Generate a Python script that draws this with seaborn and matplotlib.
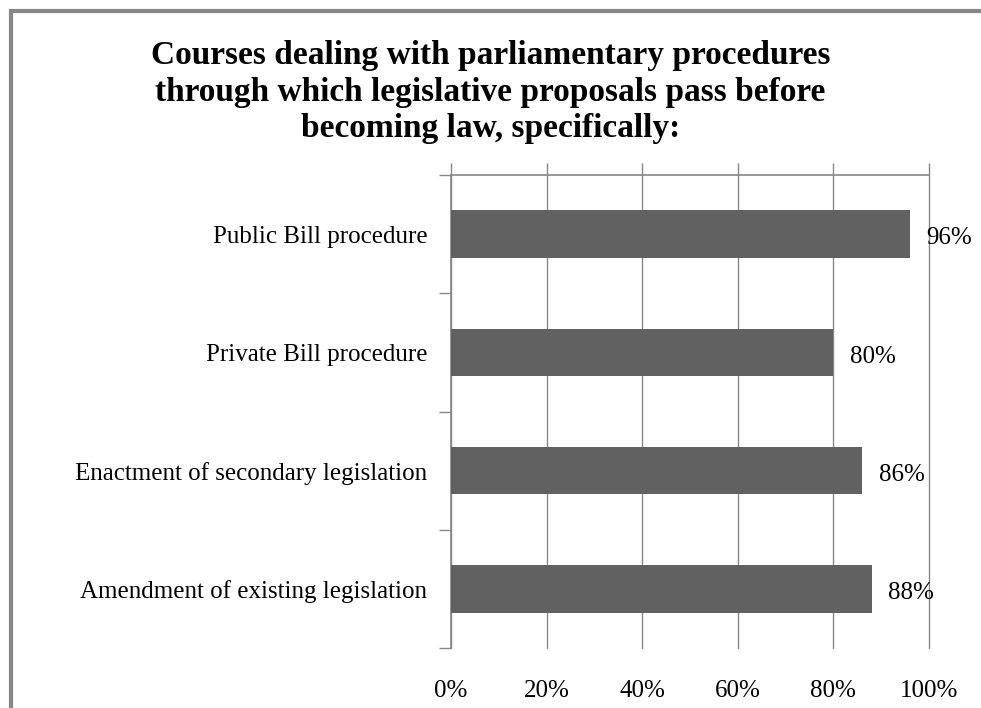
import matplotlib
matplotlib.use("Agg")
import matplotlib.pyplot as plt
from matplotlib.patches import Rectangle
from matplotlib.ticker import FixedLocator, FuncFormatter
import seaborn as sns
import pandas as pd

# Data
categories = [
    "Public Bill procedure",
    "Private Bill procedure",
    "Enactment of secondary legislation",
    "Amendment of existing legislation",
]
percentages = [96, 80, 86, 88]
x_ticks = [0, 20, 40, 60, 80, 100]

title = ("Courses dealing with parliamentary procedures\n"
         "through which legislative proposals pass before\n"
         "becoming law, specifically:")

sns.set_theme(style="white")
plt.rcParams["font.family"] = ["Liberation Serif", "DejaVu Serif"]

df = pd.DataFrame({"category": categories, "pct": percentages})

fig = plt.figure(figsize=(9.81, 7.08), dpi=100)
ax = fig.add_axes([451 / 981, 1 - 648 / 708, 478 / 981, 473 / 708])

bar_color = "#616161"
line_color = "#878787"

sns.barplot(data=df, y="category", x="pct", orient="h", color=bar_color,
            width=0.4, saturation=1, linewidth=0, ax=ax, zorder=3)

ax.set_xlim(0, 100)
ax.set_ylim(len(categories) - 0.5, -0.5)

# vertical gridlines
ax.xaxis.set_major_locator(FixedLocator(x_ticks))
ax.xaxis.set_major_formatter(FuncFormatter(lambda v, p: f"{v:.0f}%"))
ax.grid(axis="x", color=line_color, linewidth=1.0, zorder=0)
ax.set_axisbelow(True)
for gl in ax.get_xgridlines():
    gl.set_clip_on(False)

# spines: top and left only
for side in ["right", "bottom"]:
    ax.spines[side].set_visible(False)
for side in ["top", "left"]:
    ax.spines[side].set_visible(True)
    ax.spines[side].set_color(line_color)
    ax.spines[side].set_linewidth(1.2)

# x ticks marked on the top line, labels drawn below the plot
ax.tick_params(axis="x", which="major", top=True, bottom=False,
               labeltop=False, labelbottom=True, direction="out",
               length=9, width=1, color=line_color, pad=14,
               labelsize=18, labelcolor="black")

# y: category labels without marks, boundary marks between categories
ax.tick_params(axis="y", which="major", left=False, length=0, pad=17,
               labelsize=18, labelcolor="black")
ax.yaxis.set_minor_locator(FixedLocator([i - 0.5 for i in range(len(categories) + 1)]))
ax.tick_params(axis="y", which="minor", left=True, direction="out",
               length=9, width=1, color=line_color)

ax.set_xlabel("")
ax.set_ylabel("")

# value labels
for i, v in enumerate(percentages):
    ax.annotate(f"{v}%", xy=(v, i), xytext=(12, -3), textcoords="offset points",
                ha="left", va="center", fontsize=18, color="black", zorder=4,
                annotation_clip=False)

fig.text(0.5, 1 - 92 / 708, title, ha="center", va="center", fontsize=24,
         fontweight="bold", linespacing=1.22, color="black")

# outer chart frame
fig.patches.append(Rectangle((11 / 981, -0.5), 2.0, 1.5 - 10.5 / 708,
                             transform=fig.transFigure, fill=False,
                             edgecolor=line_color, linewidth=3, zorder=10))

fig.savefig("out.png", dpi=100, facecolor="white")
